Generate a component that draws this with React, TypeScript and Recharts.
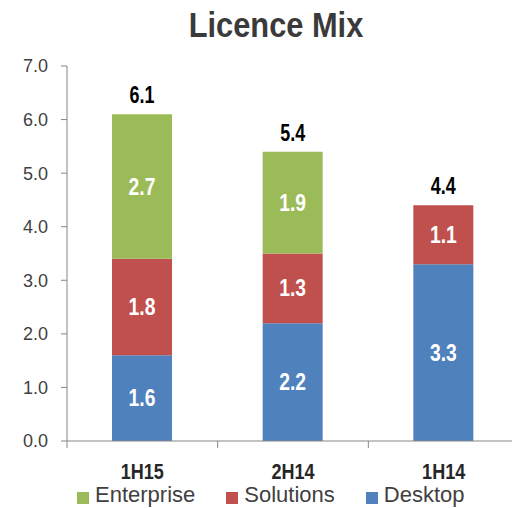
import React from 'react';
import { BarChart, Bar, XAxis, YAxis, LabelList } from 'recharts';

const categories = ['1H15', '2H14', '1H14'];
const desktop = [1.6, 2.2, 3.3];
const solutions = [1.8, 1.3, 1.1];
const enterprise = [2.7, 1.9, 0];
const totals = [6.1, 5.4, 4.4];
const yTicks = [0, 1, 2, 3, 4, 5, 6, 7];
const seriesNames = ['Enterprise', 'Solutions', 'Desktop'];

const FONT = '"Liberation Sans", Arial, sans-serif';
const BLUE = '#4F81BD';
const RED = '#C0504D';
const GREEN = '#9BBB59';
const AXIS = '#868686';
const TEXT = '#3F3F3F';
const seriesColors = [GREEN, RED, BLUE];

const data = categories.map((c, i) => ({
  name: c,
  Desktop: desktop[i],
  Solutions: solutions[i],
  Enterprise: enterprise[i],
}));

const NarrowText = ({ x, y, scale, size, fill, children }: any) => (
  <text
    transform={`translate(${x} ${y}) scale(${scale} 1)`}
    x={0}
    y={0}
    textAnchor="middle"
    fill={fill}
    fontFamily={FONT}
    fontWeight="bold"
    fontSize={size}
  >
    {children}
  </text>
);

const InnerLabel = (props: any) => {
  const { x, y, width, height, value } = props;
  if (!value) return null;
  return (
    <NarrowText x={x + width / 2} y={y + height / 2 + 8} scale={0.84} size={23} fill="#ffffff">
      {Number(value).toFixed(1)}
    </NarrowText>
  );
};

const makeTotalLabel = (series: 'Enterprise' | 'Solutions') => (props: any) => {
  const { x, y, width, index } = props;
  const isTop = series === 'Enterprise' ? enterprise[index] > 0 : !(enterprise[index] > 0);
  if (!isTop) return null;
  return (
    <NarrowText x={x + width / 2} y={y - 11} scale={0.78} size={23} fill="#000000">
      {totals[index].toFixed(1)}
    </NarrowText>
  );
};
const TotalOnEnterprise = makeTotalLabel('Enterprise');
const TotalOnSolutions = makeTotalLabel('Solutions');

const CatTick = (props: any) => {
  const { x, y, payload, index, visibleTicksCount } = props;
  const w = Number(props.width);
  const half = w > 0 && visibleTicksCount ? w / visibleTicksCount / 2 : 75;
  return (
    <g>
      <line x1={x - half} x2={x - half} y1={y} y2={y + 7} stroke={AXIS} strokeWidth={1} />
      {index === visibleTicksCount - 1 && (
        <line x1={x + half} x2={x + half} y1={y} y2={y + 7} stroke={AXIS} strokeWidth={1} />
      )}
      <NarrowText x={x} y={y + 38} scale={0.82} size={22} fill="#262626">
        {payload.value}
      </NarrowText>
    </g>
  );
};

export default function App() {
  return (
    <div style={{ position: 'absolute', left: 0, top: 0, width: 512, height: 508, overflow: 'hidden', background: '#fff' }}>
      <div
        style={{
          position: 'absolute',
          left: 0,
          top: 5,
          width: 552,
          textAlign: 'center',
          fontFamily: FONT,
          fontWeight: 'bold',
          fontSize: 35,
          lineHeight: '40px',
          color: '#3A3A3A',
          transform: 'scaleX(0.88)',
          transformOrigin: '276px 20px',
          whiteSpace: 'nowrap',
        }}
      >
        Licence Mix
      </div>
      <BarChart
        width={530}
        height={508}
        data={data}
        margin={{ top: 66, right: 11, bottom: 0, left: 7 }}
        barSize={60}
      >
        <XAxis
          dataKey="name"
          axisLine={{ stroke: AXIS }}
          tickLine={false}
          tickSize={0}
          tickMargin={0}
          tick={<CatTick />}
          height={67}
          interval={0}
        />
        <YAxis
          domain={[0, 7]}
          ticks={yTicks}
          width={60}
          tickFormatter={(v: number) => v.toFixed(1)}
          axisLine={{ stroke: AXIS }}
          tickLine={{ stroke: AXIS }}
          tickSize={6}
          tickMargin={13}
          tick={{ fill: TEXT, fontSize: 18, fontFamily: FONT }}
          interval={0}
        />
        <Bar dataKey="Desktop" stackId="a" fill={BLUE} isAnimationActive={false}>
          <LabelList dataKey="Desktop" content={<InnerLabel />} />
        </Bar>
        <Bar dataKey="Solutions" stackId="a" fill={RED} isAnimationActive={false}>
          <LabelList dataKey="Solutions" content={<InnerLabel />} />
          <LabelList dataKey="Solutions" content={<TotalOnSolutions />} />
        </Bar>
        <Bar dataKey="Enterprise" stackId="a" fill={GREEN} isAnimationActive={false}>
          <LabelList dataKey="Enterprise" content={<InnerLabel />} />
          <LabelList dataKey="Enterprise" content={<TotalOnEnterprise />} />
        </Bar>
      </BarChart>
      <div
        style={{
          position: 'absolute',
          left: 77,
          top: 484,
          display: 'flex',
          fontFamily: FONT,
          fontSize: 22,
          lineHeight: '22px',
          color: TEXT,
          whiteSpace: 'nowrap',
        }}
      >
        {seriesNames.map((name, i) => (
          <div key={name} style={{ display: 'flex', alignItems: 'center', marginRight: i < seriesNames.length - 1 ? 31 : 0 }}>
            <span
              style={{
                display: 'inline-block',
                width: 12,
                height: 12,
                background: seriesColors[i],
                marginRight: 6,
                position: 'relative',
                top: 3,
              }}
            />
            <span>{name}</span>
          </div>
        ))}
      </div>
    </div>
  );
}
